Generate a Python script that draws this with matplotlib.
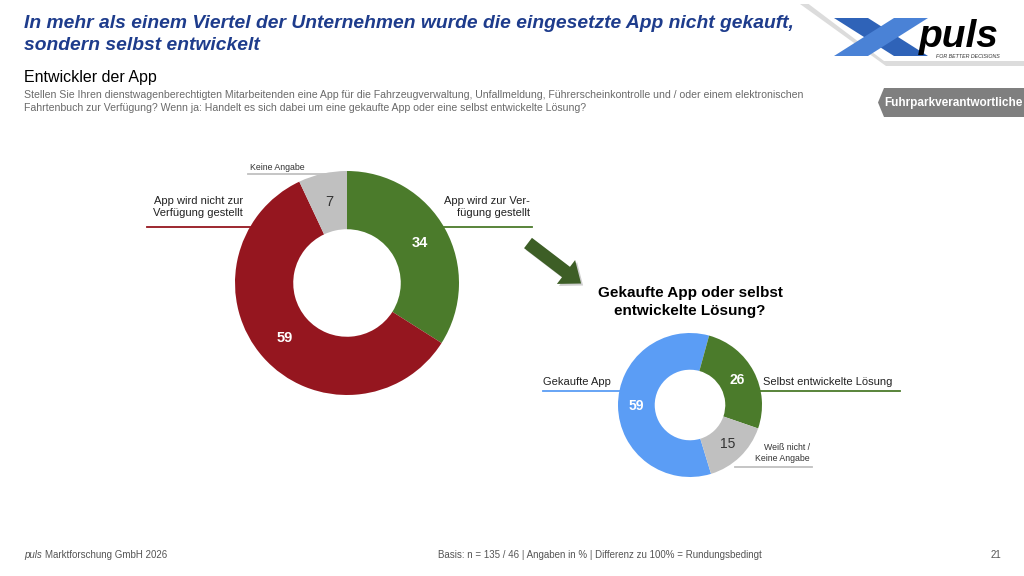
import matplotlib.pyplot as plt
import matplotlib.patches as mpatches
import matplotlib.transforms as mtransforms
import numpy as np

plt.rcParams['font.family'] = ['Liberation Sans', 'DejaVu Sans']

# %% data
main_labels = ["App wird zur Ver-\nfügung gestellt", "App wird nicht zur\nVerfügung gestellt", "Keine Angabe"]
main_values = [34, 59, 7]
main_colors = ['#4b7b2b', '#95161f', '#c0c0c0']

sub_labels = ["Gekaufte App", "Selbst entwickelte Lösung", "Weiß nicht /\nKeine Angabe"]
sub_values = [59, 26, 15]
sub_colors = ['#5b9df5', '#4b7b2b', '#c0c0c0']

title = "In mehr als einem Viertel der Unternehmen wurde die eingesetzte App nicht gekauft,\nsondern selbst entwickelt"
subtitle = "Entwickler der App"
question = ("Stellen Sie Ihren dienstwagenberechtigten Mitarbeitenden eine App für die Fahrzeugverwaltung, Unfallmeldung, "
            "Führerscheinkontrolle und / oder einem elektronischen\nFahrtenbuch zur Verfügung? Wenn ja: Handelt es sich "
            "dabei um eine gekaufte App oder eine selbst entwickelte Lösung?")
sub_title = "Gekaufte App oder selbst\nentwickelte Lösung?"
footer_mid = "Basis: n = 135 / 46 | Angaben in % | Differenz zu 100% = Rundungsbedingt"
page_no = "21"

W, H = 1024, 576
fig = plt.figure(figsize=(W / 100, H / 100), dpi=100)
fig.patch.set_facecolor('white')


def donut(cx, cy, r, values, colors, start, hole, dark_idx, fs):
    ax = fig.add_axes([(cx - r) / W, (H - cy - r) / H, 2 * r / W, 2 * r / H])
    wedges, _ = ax.pie(values, colors=colors, startangle=start, counterclock=False,
                       radius=1, wedgeprops=dict(width=1 - hole, linewidth=0))
    ax.set_xlim(-1, 1)
    ax.set_ylim(-1, 1)
    ax.axis('off')
    rm = (1 + hole) / 2
    for i, (w, v) in enumerate(zip(wedges, values)):
        ang = np.deg2rad((w.theta1 + w.theta2) / 2)
        if i == dark_idx:
            ax.text(rm * np.cos(ang), rm * np.sin(ang), str(v), ha='center', va='center',
                    fontsize=fs, color='#333333')
        else:
            ax.text(rm * np.cos(ang), rm * np.sin(ang), str(v), ha='center', va='center',
                    fontsize=fs, color='white', fontweight='bold')
    return ax


donut(347, 283, 112, main_values, main_colors, 90, 0.48, 2, 10.5)
donut(690, 405, 72, sub_values, sub_colors, -73, 0.49, 2, 10)

# overlay in pixel coordinates
ov = fig.add_axes([0, 0, 1, 1])
ov.set_xlim(0, W)
ov.set_ylim(H, 0)
ov.axis('off')
ov.patch.set_alpha(0)

# header
ov.text(24, 15, title, fontsize=13.9, fontweight='bold', fontstyle='italic', color='#1e3c8c',
        va='top', ha='left', linespacing=1.38)
ov.text(24, 70, subtitle, fontsize=11.5, color='black', va='top', ha='left')
ov.text(24, 90, question, fontsize=7.6, color='#6a6a6a', va='top', ha='left', linespacing=1.4)

# logo
ov.add_patch(mpatches.Polygon([(800, 4), (1024, 4), (1024, 66), (886, 66)], closed=True,
                              facecolor='#dcdcdc', edgecolor='none'))
ov.add_patch(mpatches.Polygon([(806, 2), (1024, 2), (1024, 61), (884, 61)], closed=True,
                              facecolor='white', edgecolor='none'))
ov.add_patch(mpatches.Polygon([(834, 18), (868, 18), (928, 56), (894, 56)], closed=True,
                              facecolor='#2f63b8', edgecolor='none'))
ov.add_patch(mpatches.Polygon([(834, 56), (868, 56), (928, 18), (894, 18)], closed=True,
                              facecolor='#4a82d6', edgecolor='none'))
ov.text(919, 47, "puls", fontsize=28, fontweight='bold', fontstyle='italic', color='black',
        ha='left', va='baseline')
ov.text(1000, 56, "FOR BETTER DECISIONS", fontsize=3.8, fontstyle='italic', color='#333333',
        ha='right', va='center')

# tag
ov.add_patch(mpatches.Polygon([(884, 88), (1024, 88), (1024, 117), (884, 117), (878, 102.5)],
                              closed=True, facecolor='#7f7f7f', edgecolor='none'))
ov.text(953, 103, "Fuhrparkverantwortliche", fontsize=8.5, fontweight='bold', color='white',
        ha='center', va='center')

# main donut labels
ov.text(530, 207, main_labels[0], fontsize=8, color='#222222', ha='right', va='center', linespacing=1.3)
ov.plot([444, 532], [227, 227], color=main_colors[0], lw=1.3)
ov.text(243, 207, main_labels[1], fontsize=8, color='#222222', ha='right', va='center', linespacing=1.3)
ov.plot([147, 250], [227, 227], color=main_colors[1], lw=1.3)
ov.text(250, 167, main_labels[2], fontsize=6.3, color='#333333', ha='left', va='center')
ov.plot([248, 340], [174, 174], color='#c0c0c0', lw=1.3)

# arrow with soft shadow
shift = mtransforms.Affine2D().translate(2, -2)
ov.add_patch(mpatches.FancyArrow(528, 243, 38, 29, width=13, head_width=30, head_length=19,
                                 facecolor='#cfcfcf', edgecolor='none',
                                 transform=ov.transData + shift))
ov.add_patch(mpatches.FancyArrow(528, 243, 38, 29, width=13, head_width=30, head_length=19,
                                 facecolor='#3d5e26', edgecolor='none'))

# sub donut
ov.text(690, 302, sub_title, fontsize=11, fontweight='bold', color='black', ha='center', va='center',
        linespacing=1.35)
ov.text(543, 382, sub_labels[0], fontsize=8, color='#222222', ha='left', va='center')
ov.plot([543, 620], [391, 391], color=sub_colors[0], lw=1.3)
ov.text(763, 382, sub_labels[1], fontsize=8, color='#222222', ha='left', va='center')
ov.plot([758, 900], [391, 391], color=sub_colors[1], lw=1.3)
ov.text(810, 453, sub_labels[2], fontsize=6.3, color='#333333', ha='right', va='center', linespacing=1.4)
ov.plot([735, 812], [467, 467], color='#c0c0c0', lw=1.3)

# footer
ov.text(24, 555, "puls", fontsize=7, fontstyle='italic', color='#555555', ha='left', va='center')
ov.text(45, 555, "Marktforschung GmbH 2026", fontsize=7, color='#555555', ha='left', va='center')
ov.text(600, 555, footer_mid, fontsize=7, color='#555555', ha='center', va='center')
ov.text(1001, 555, page_no, fontsize=7, color='#555555', ha='right', va='center')

fig.savefig('out.png', dpi=100)
